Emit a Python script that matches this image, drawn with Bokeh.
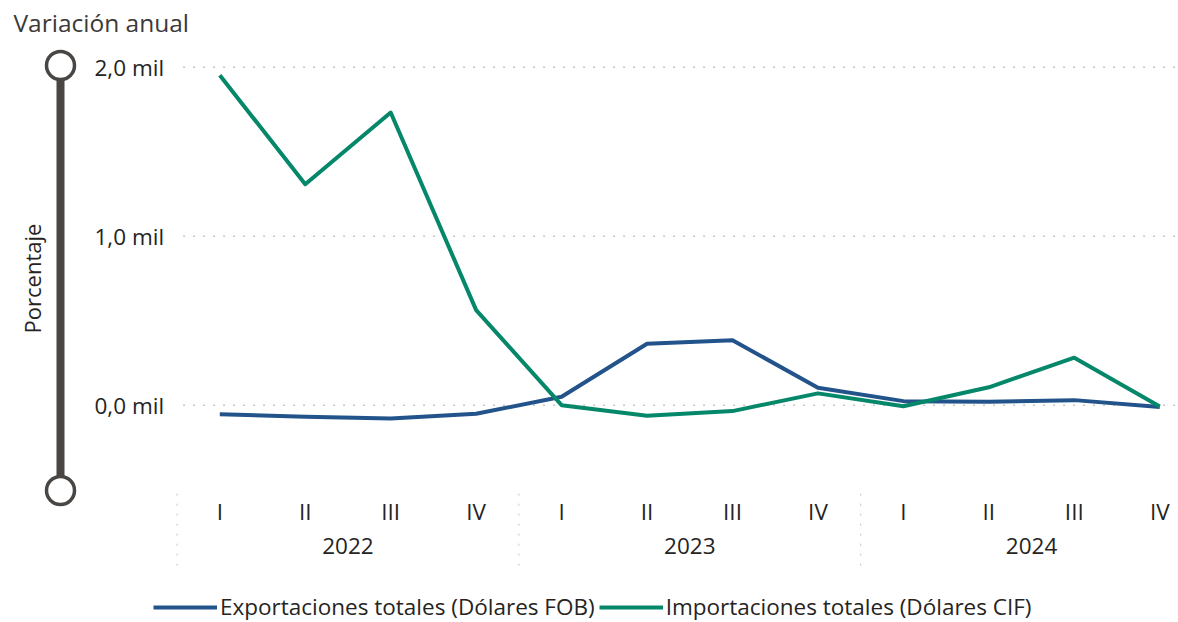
import numpy as np
from bokeh.plotting import figure
from bokeh.models import FixedTicker, LinearAxis, Legend, LegendItem, Range1d
from bokeh.embed import file_html
from bokeh.resources import INLINE
from bokeh.core.properties import value

# Quarterly year-on-year change, in thousands of percent
years = ["2022", "2023", "2024"]
quarters = ["I", "II", "III", "IV"]
exportaciones = [-0.053, -0.068, -0.079, -0.051, 0.050, 0.364, 0.385, 0.103,
                 0.024, 0.020, 0.030, -0.011]
importaciones = [1.953, 1.308, 1.732, 0.563, 0.000, -0.062, -0.035, 0.070,
                 -0.006, 0.106, 0.281, -0.008]
y_ticks = [0, 1, 2]
y_labels = ["0,0 mil", "1,0 mil", "2,0 mil"]

TEXT = "#252423"
GRID = "#c8c6c4"
BLUE = "#22538a"
GREEN = "#05876a"
SLIDER = "#4a4643"
FONT = "Open Sans"
FS = "22.5px"

W, H = 1178, 622
# page geometry: where the first quarter and the value axis sit, in pixels
X0_PX, X_STEP = 219.3, 85.45
Y0_PX, Y_STEP = 404.7, 168.95
Y_MIN, Y_MAX = -0.5, 2.0   # extent of the value axis
X_MIN = -0.5               # left end of the category axis

n = len(years) * len(quarters)
xs = np.arange(n)

x_range = Range1d(-X0_PX / X_STEP, (W - X0_PX) / X_STEP)
y_range = Range1d(-(H - Y0_PX) / Y_STEP, Y0_PX / Y_STEP)

p = figure(width=W, height=H, x_range=x_range, y_range=y_range,
           x_axis_location=None, y_axis_location=None,
           output_backend="svg", toolbar_location=None)
p.min_border = 0
p.outline_line_color = None
p.xgrid.visible = False
p.ygrid.visible = False
# pixel ranges for the decorations around the plot area
p.extra_x_ranges = {"px": Range1d(0, W)}
p.extra_y_ranges = {"px": Range1d(H, 0)}

# dotted horizontal grid lines at the value ticks
p.segment(x0=X_MIN + 6 / X_STEP, x1=x_range.end, y0=y_ticks, y1=y_ticks,
          line_color=GRID, line_width=1.5, line_dash="2 8")

# value axis
yax = LinearAxis(ticker=FixedTicker(ticks=y_ticks),
                 major_label_overrides={t: s for t, s in zip(y_ticks, y_labels)},
                 fixed_location=X_MIN, bounds=(Y_MIN, Y_MAX + 1e-6))
yax.axis_line_color = None
yax.major_tick_line_color = None
yax.minor_tick_line_color = None
yax.major_label_standoff = 7
yax.major_label_text_font = FONT
yax.major_label_text_font_size = FS
yax.major_label_text_color = TEXT
yax.axis_label = "Porcentaje"
yax.axis_label_standoff = 45
yax.axis_label_text_font = FONT
yax.axis_label_text_font_size = "22px"
yax.axis_label_text_font_style = "normal"
yax.axis_label_text_color = TEXT
p.add_layout(yax, "left")


def cat_axis(ticks, labels, standoff):
    ax = LinearAxis(ticker=FixedTicker(ticks=ticks),
                    major_label_overrides={t: s for t, s in zip(ticks, labels)},
                    fixed_location=Y_MIN)
    ax.axis_line_color = None
    ax.major_tick_line_color = None
    ax.minor_tick_line_color = None
    ax.major_label_standoff = standoff
    ax.major_label_text_font = FONT
    ax.major_label_text_font_size = FS
    ax.major_label_text_color = TEXT
    p.add_layout(ax, "below")
    return ax


# quarters, then years centred under their four quarters
cat_axis([int(i) for i in xs], [quarters[i % 4] for i in xs], 0)
centers = [i * len(quarters) + 1.5 for i in range(len(years))]
cat_axis(centers, years, 42)

# dotted separators between the years
seps = [i * len(quarters) - 0.5 for i in range(len(years))]
p.segment(x0=seps, x1=seps, y0=Y_MIN - 4 / Y_STEP, y1=Y_MIN - 78 / Y_STEP,
          line_color=GRID, line_width=1, line_dash="2 8")

r_exp = p.line(xs, exportaciones, line_color=BLUE, line_width=4, line_join="round")
r_imp = p.line(xs, importaciones, line_color=GREEN, line_width=4, line_join="round")

legend = Legend(items=[
    LegendItem(label="Exportaciones totales (Dólares FOB)", renderers=[r_exp]),
    LegendItem(label="Importaciones totales (Dólares CIF)", renderers=[r_imp]),
], orientation="horizontal", location=(153, 0))
legend.glyph_width = 64
legend.glyph_height = 20
legend.label_standoff = 3
legend.spacing = 4
legend.padding = 0
legend.margin = 0
legend.border_line_color = None
legend.background_fill_alpha = 0
legend.label_text_font = FONT
legend.label_text_font_size = FS
legend.label_text_color = TEXT
p.add_layout(legend, "center")

# title
p.text(x=[13], y=[22], text=["Variación anual"], x_range_name="px", y_range_name="px",
       text_font=value(FONT), text_font_size="24.5px", text_color="#3b3a39",
       text_align="left", text_baseline="middle")

# range slider beside the value axis
p.quad(left=[56], right=[64], top=[78], bottom=[477], x_range_name="px",
       y_range_name="px", fill_color=SLIDER, line_color=None)
p.circle(x=[60, 60], y=[65, 490], radius=14, x_range_name="px", y_range_name="px",
         fill_color="white", line_color=SLIDER, line_width=3.5)

open("out.html", "w").write(file_html(p, INLINE))
